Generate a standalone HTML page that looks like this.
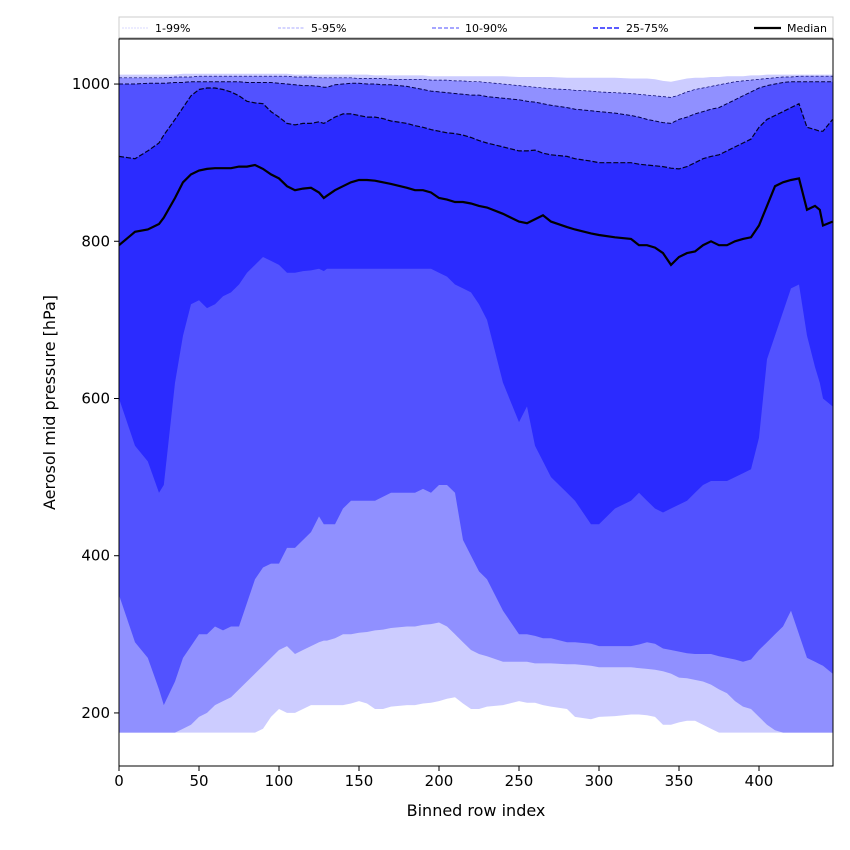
<!DOCTYPE html>
<html><head><meta charset="utf-8"><style>
html,body{margin:0;padding:0;background:#fff;}
svg{display:block;font-family:"DejaVu Sans","Liberation Sans",sans-serif;}
</style></head><body>
<svg id="chart" width="850" height="850"></svg>
<script>
const xIdx=[0,10,18,25,28,35,40,45,50,55,60,65,70,75,80,85,90,95,100,105,110,115,120,125,128,130,135,140,145,150,155,160,165,170,180,185,190,195,200,205,210,215,220,225,230,240,250,255,260,265,270,280,285,295,300,310,320,325,330,335,340,345,350,355,360,365,370,375,380,385,390,395,400,405,410,415,420,425,430,435,438,440,446];
const p99=[1012,1012,1012,1012,1012,1012,1013,1013,1013,1013,1013,1013,1013,1013,1013,1013,1013,1013,1013,1013,1012,1012,1012,1012,1012,1012,1012,1012,1012,1012,1012,1011,1011,1011,1011,1011,1011,1010,1010,1010,1010,1010,1010,1010,1010,1010,1009,1009,1009,1009,1009,1008,1008,1008,1008,1008,1007,1007,1007,1006,1004,1003,1005,1007,1008,1008,1009,1009,1010,1010,1010,1011,1011,1012,1012,1012,1012,1012,1012,1012,1012,1012,1012];
const p95=[1008,1008,1008,1008,1008,1009,1009,1009,1010,1010,1010,1010,1010,1010,1010,1010,1010,1010,1010,1010,1009,1009,1009,1008,1008,1008,1008,1008,1008,1007,1007,1007,1007,1006,1006,1006,1006,1005,1005,1005,1004,1004,1003,1003,1002,1000,998,997,996,995,994,993,992,991,990,989,988,987,986,985,984,983,986,990,993,995,997,999,1001,1003,1004,1005,1006,1007,1008,1009,1009,1010,1010,1010,1010,1010,1010];
const p90=[1000,1000,1001,1001,1001,1002,1002,1003,1003,1003,1003,1003,1003,1003,1002,1002,1002,1002,1001,1000,999,998,998,997,996,996,999,1000,1001,1001,1000,1000,999,999,997,995,993,991,990,989,988,987,986,986,984,982,980,978,977,975,973,970,968,966,965,963,960,958,955,953,951,950,955,958,962,965,968,970,975,980,985,990,995,998,1000,1002,1003,1003,1003,1003,1003,1003,1003];
const p75=[908,905,915,925,935,955,970,985,993,995,995,993,990,985,978,976,975,965,958,950,948,950,950,952,950,952,958,962,962,960,958,958,956,953,950,947,945,942,940,938,937,935,932,928,925,920,915,915,916,912,910,908,905,902,900,900,900,898,897,896,895,893,892,895,900,905,908,910,915,920,925,930,945,955,960,965,970,975,945,942,940,940,955];
const p50=[795,812,815,822,830,855,875,885,890,892,893,893,893,895,895,897,892,885,880,870,865,867,868,862,855,858,865,870,875,878,878,877,875,873,868,865,865,862,855,853,850,850,848,845,843,835,825,823,828,833,825,818,815,810,808,805,803,795,795,792,785,770,780,785,787,795,800,795,795,800,803,805,820,845,870,875,878,880,840,845,840,820,825];
const p25=[600,540,520,480,490,620,680,720,725,715,720,730,735,745,760,770,780,775,770,760,760,762,763,765,762,765,765,765,765,765,765,765,765,765,765,765,765,765,760,755,745,740,735,720,700,620,570,590,540,520,500,480,470,440,440,460,470,480,470,460,455,460,465,470,480,490,495,495,495,500,505,510,550,650,680,710,740,745,680,640,620,600,590];
const p10=[350,290,270,230,210,240,270,285,300,300,310,305,310,310,340,370,385,390,390,410,410,420,430,450,440,440,440,460,470,470,470,470,475,480,480,480,485,480,490,490,480,420,400,380,370,330,300,300,298,295,295,290,290,288,285,285,285,287,290,288,282,280,278,276,275,275,275,272,270,268,265,268,280,290,300,310,330,300,270,265,262,260,250];
const p5=[175,175,175,175,175,175,180,185,195,200,210,215,220,230,240,250,260,270,280,285,275,280,285,290,292,292,295,300,300,302,303,305,306,308,310,310,312,313,315,310,300,290,280,275,272,265,265,265,263,263,263,262,262,260,258,258,258,257,256,255,253,250,245,244,242,240,236,230,225,215,208,205,195,185,178,175,175,175,175,175,175,175,175];
const p1=[175,175,175,175,175,175,175,175,175,175,175,175,175,175,175,175,180,195,205,200,200,205,210,210,210,210,210,210,212,215,212,205,205,208,210,210,212,213,215,218,220,212,205,205,208,210,215,213,213,210,208,205,195,192,195,196,198,198,197,195,185,185,188,190,190,185,180,175,175,175,175,175,175,175,175,175,175,175,175,175,175,175,175];
const xTicks=[0,50,100,150,200,250,300,350,400];
const yTicks=[200,400,600,800,1000];

const NS="http://www.w3.org/2000/svg";
const svg=document.getElementById('chart');
const L=119,R=833,T=39,B=766;
const xMin=0,xMax=446.25,yMin=132.5,yMax=1057.3;
function sx(v){return L+(v-xMin)/(xMax-xMin)*(R-L);}
function sy(v){return B-(v-yMin)/(yMax-yMin)*(B-T);}
function mk(tag,attrs,parent){const e=document.createElementNS(NS,tag);for(const k in attrs)e.setAttribute(k,attrs[k]);(parent||svg).appendChild(e);return e;}
function bandPath(lo,hi){let d='';for(let i=0;i<xIdx.length;i++)d+=(i?'L':'M')+sx(xIdx[i]).toFixed(1)+','+sy(hi[i]).toFixed(1);for(let i=xIdx.length-1;i>=0;i--)d+='L'+sx(xIdx[i]).toFixed(1)+','+sy(lo[i]).toFixed(1);return d+'Z';}
function linePath(a){let d='';for(let i=0;i<xIdx.length;i++)d+=(i?'L':'M')+sx(xIdx[i]).toFixed(1)+','+sy(a[i]).toFixed(1);return d;}

const clip=mk('clipPath',{id:'pc'},mk('defs',{}));
mk('rect',{x:L,y:T,width:R-L,height:B-T},clip);
const g=mk('g',{'clip-path':'url(#pc)'});
let e;
e=mk('path',{d:bandPath(p1,p99),fill:'#ccccff'},g);


e=mk('path',{d:bandPath(p5,p95),fill:'#9090ff'},g);


e=mk('path',{d:bandPath(p10,p90),fill:'#5252ff'},g);


e=mk('path',{d:bandPath(p25,p75),fill:'#2b2bff'},g);


e=mk('path',{d:linePath(p95),fill:'none',stroke:'#000066','stroke-width':0.7,'stroke-dasharray':'3,2'},g);


e=mk('path',{d:linePath(p90),fill:'none',stroke:'#000044','stroke-width':1,'stroke-dasharray':'4,2'},g);


e=mk('path',{d:linePath(p75),fill:'none',stroke:'#000022','stroke-width':1.2,'stroke-dasharray':'5,2'},g);


e=mk('path',{d:linePath(p50),fill:'none',stroke:'#000','stroke-width':2.2},g);



e=mk('rect',{x:L,y:T,width:R-L,height:B-T,fill:'none',stroke:'#000','stroke-width':1});



xTicks.forEach(v=>{const x=sx(v);
 mk('line',{x1:x,x2:x,y1:B,y2:B+5,stroke:'#000'});
 const t=mk('text',{x:x,y:B+20,'text-anchor':'middle','font-size':15});t.textContent=v;
 
 });
yTicks.forEach(v=>{const y=sy(v);
 mk('line',{x1:L-5,x2:L,y1:y,y2:y,stroke:'#000'});
 const t=mk('text',{x:L-9,y:y+5,'text-anchor':'end','font-size':15});t.textContent=v;
 
 });

e=mk('text',{x:(L+R)/2,y:816,'text-anchor':'middle','font-size':16});e.textContent='Binned row index';


e=mk('text',{x:55,y:(T+B)/2,'text-anchor':'middle','font-size':16,transform:'rotate(-90 55 '+((T+B)/2)+')'});e.textContent='Aerosol mid pressure [hPa]';



const lg=mk('g',{});


mk('rect',{x:119,y:17,width:714,height:21,fill:'#fff',stroke:'#ccc','stroke-width':1},lg);
mk('line',{x1:119,x2:833,y1:38,y2:38,stroke:'#999'},lg);
const legLabels=['1-99%','5-95%','10-90%','25-75%','Median'];
const legX=[122,278,432,593,754];
const legStyle=[['#ccccff',0.8,'2,1'],['#9090ff',0.8,'3,1.5'],['#7070ff',1.2,'4,2'],['#4444ff',1.8,'5,2'],['#000',2.2,'']];
legLabels.forEach((lab,i)=>{
 const ln=mk('line',{x1:legX[i],x2:legX[i]+27,y1:28,y2:28,stroke:legStyle[i][0],'stroke-width':legStyle[i][1],'stroke-dasharray':legStyle[i][2]},lg);
 const t=mk('text',{x:legX[i]+33,y:32,'font-size':11},lg);t.textContent=lab;
 
 
});
</script>
</body></html>
